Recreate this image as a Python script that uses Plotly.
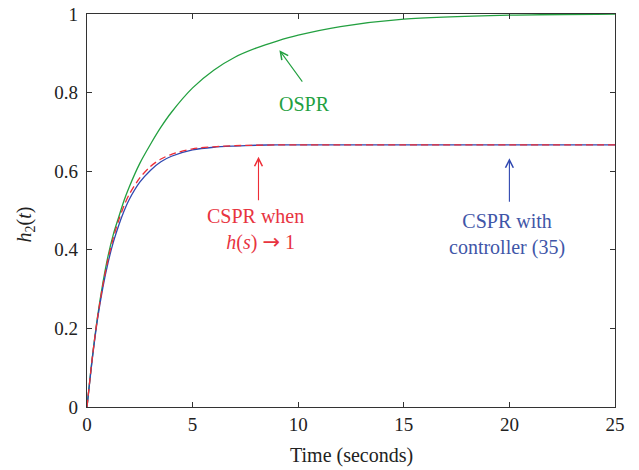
import plotly.graph_objects as go

# Time samples (seconds)
time_s = [0, 0.25, 0.5, 0.75, 1.0, 1.25, 1.5, 1.75, 2.0, 2.5, 3.0, 3.5, 4.0,
          5.0, 6.0, 7.0, 8.0, 9.0, 10.0, 12.0, 15.0, 20.0, 25.0]

# OSPR response (green)
ospr = [0, 0.125, 0.230, 0.315, 0.385, 0.440, 0.483, 0.525, 0.560, 0.620, 0.668,
        0.712, 0.750, 0.812, 0.857, 0.890, 0.913, 0.931, 0.946, 0.968, 0.987,
        0.997, 1.0]

# CSPR when h(s) -> 1 (red dashed)
cspr_h1 = [0, 0.125, 0.228, 0.310, 0.377, 0.431, 0.475, 0.512, 0.541, 0.583, 0.612,
           0.631, 0.643, 0.657, 0.662, 0.665, 0.666, 0.667, 0.667, 0.667, 0.667,
           0.667, 0.667]

# CSPR with controller (35) (blue)
cspr_ctrl = [0, 0.122, 0.224, 0.304, 0.368, 0.420, 0.462, 0.498, 0.528, 0.572, 0.602,
             0.624, 0.638, 0.654, 0.661, 0.664, 0.666, 0.667, 0.667, 0.667, 0.667,
             0.667, 0.667]

x_ticks = [0, 5, 10, 15, 20, 25]
y_ticks = [0, 0.2, 0.4, 0.6, 0.8, 1]
y_tick_labels = ["0", "0.2", "0.4", "0.6", "0.8", "1"]

GREEN = "#23a040"
RED = "#ee2d36"
BLUE = "#3048b0"
TXT_RED = "#e8343f"
TXT_BLUE = "#3f56a8"
FONT = "Liberation Serif"

fig = go.Figure()
fig.add_trace(go.Scatter(x=time_s, y=ospr, mode="lines",
                         line=dict(color=GREEN, width=1.3, shape="spline", smoothing=0.8)))
fig.add_trace(go.Scatter(x=time_s, y=cspr_ctrl, mode="lines",
                         line=dict(color=BLUE, width=1.3, shape="spline", smoothing=0.8)))
fig.add_trace(go.Scatter(x=time_s, y=cspr_h1, mode="lines",
                         line=dict(color=RED, width=1.3, dash="7px,4px", shape="spline", smoothing=0.8)))

axis_common = dict(showline=True, linecolor="#333", linewidth=1.2, mirror="ticks",
                   ticks="inside", ticklen=5, tickcolor="#333", tickwidth=1,
                   showgrid=False, zeroline=False, automargin=False,
                   tickfont=dict(family=FONT, size=19, color="#222"))

fig.update_xaxes(range=[0, 25], tickvals=x_ticks, **axis_common)
fig.update_yaxes(range=[0, 1], tickvals=y_ticks, ticktext=y_tick_labels,
                 ticklabelstandoff=4, **axis_common)

arrow_txt = '<span style="font-family:DejaVu Sans;font-size:21px">\u2192</span>'

annotations = [
    # axis titles
    dict(text="Time (seconds)", xref="paper", yref="paper", x=0.5, y=0,
         xanchor="center", yanchor="middle",
         yshift=-48, showarrow=False, font=dict(family=FONT, size=20, color="#222")),
    dict(text="<i>h</i><sub>2</sub>(<i>t</i>)", xref="paper", yref="paper", x=0, y=0.5,
         xanchor="center", yanchor="middle",
         xshift=-62, yshift=-14, textangle=-90, showarrow=False,
         font=dict(family=FONT, size=20, color="#222")),
    # arrows
    dict(x=9.11, y=0.908, ax=24, ay=33, text="", showarrow=True, arrowhead=5,
         arrowsize=1.4, arrowwidth=1.1, arrowcolor=GREEN),
    dict(x=8.12, y=0.637, ax=0, ay=45, text="", showarrow=True, arrowhead=5,
         arrowsize=1.4, arrowwidth=1.1, arrowcolor=RED),
    dict(x=20.0, y=0.633, ax=0, ay=45, text="", showarrow=True, arrowhead=5,
         arrowsize=1.4, arrowwidth=1.1, arrowcolor=BLUE),
    # labels
    dict(x=10.32, y=0.771, text="OSPR", showarrow=False,
         font=dict(family=FONT, size=20, color=GREEN)),
    dict(x=8.0, y=0.452,
         text="CSPR when<br>\u00a0\u00a0<i>h</i>(<i>s</i>)\u00a0" + arrow_txt + "\u00a01",
         showarrow=False, align="center",
         font=dict(family=FONT, size=20, color=TXT_RED)),
    dict(x=19.9, y=0.438, text="CSPR with<br>controller (35)", showarrow=False,
         align="center", font=dict(family=FONT, size=20, color=TXT_BLUE)),
]

fig.update_layout(width=639, height=470, showlegend=False,
                  margin=dict(l=87, r=24, t=14, b=63),
                  paper_bgcolor="white", plot_bgcolor="white",
                  annotations=annotations)

fig.write_html("out.html")
